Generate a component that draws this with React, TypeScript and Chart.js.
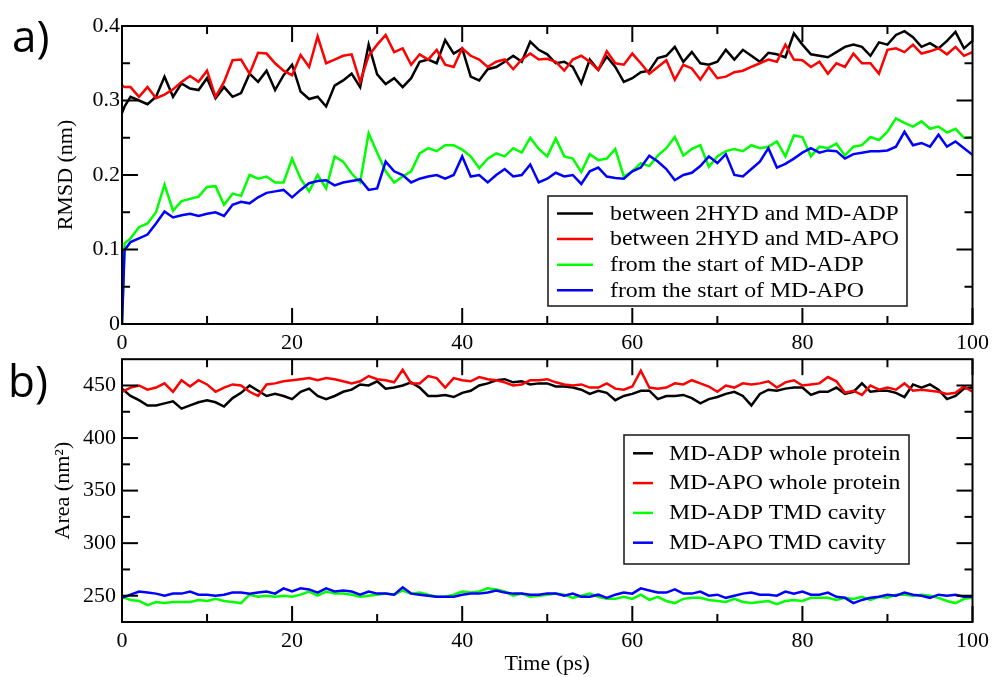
import React, { useEffect, useRef } from 'react';
import { Chart, registerables } from 'chart.js';

Chart.register(...registerables);

// ---------- data ----------
// top panel time axis (ps)
const TIME_RMSD = [0, 0.3, ...Array.from({ length: 100 }, (_, i) => i + 1)];
// bottom panel time axis (ps)
const TIME_AREA = Array.from({ length: 101 }, (_, i) => i);

const RMSD_2HYD_ADP = [
  0.283, 0.292,
  0.305, 0.300, 0.295, 0.305, 0.332, 0.305, 0.323, 0.316, 0.314, 0.330,
  0.303, 0.318, 0.305, 0.310, 0.336, 0.325, 0.340, 0.314, 0.334, 0.348,
  0.312, 0.302, 0.305, 0.292, 0.320, 0.327, 0.336, 0.318, 0.375, 0.335,
  0.322, 0.330, 0.318, 0.330, 0.352, 0.355, 0.350, 0.381, 0.363, 0.370,
  0.332, 0.327, 0.342, 0.345, 0.352, 0.360, 0.352, 0.379, 0.368, 0.362,
  0.350, 0.352, 0.345, 0.323, 0.355, 0.341, 0.359, 0.345, 0.325, 0.330,
  0.338, 0.340, 0.357, 0.360, 0.372, 0.352, 0.365, 0.350, 0.348, 0.352,
  0.368, 0.355, 0.368, 0.360, 0.352, 0.364, 0.362, 0.358, 0.390, 0.375,
  0.362, 0.360, 0.358, 0.365, 0.372, 0.375, 0.372, 0.360, 0.378, 0.375,
  0.388, 0.393, 0.385, 0.372, 0.377, 0.370, 0.380, 0.392, 0.370, 0.380,
];
const RMSD_2HYD_APO = [
  0.320, 0.318,
  0.318, 0.305, 0.318, 0.303, 0.308, 0.315, 0.325, 0.333, 0.325, 0.340,
  0.305, 0.325, 0.354, 0.355, 0.336, 0.364, 0.363, 0.350, 0.340, 0.334,
  0.361, 0.345, 0.386, 0.350, 0.355, 0.360, 0.362, 0.325, 0.360, 0.375,
  0.388, 0.365, 0.370, 0.348, 0.362, 0.355, 0.368, 0.348, 0.345, 0.370,
  0.360, 0.355, 0.345, 0.352, 0.355, 0.342, 0.355, 0.363, 0.355, 0.356,
  0.352, 0.340, 0.355, 0.360, 0.352, 0.341, 0.366, 0.350, 0.348, 0.363,
  0.350, 0.336, 0.345, 0.354, 0.328, 0.348, 0.343, 0.328, 0.345, 0.330,
  0.332, 0.338, 0.340, 0.345, 0.350, 0.355, 0.352, 0.375, 0.355, 0.354,
  0.345, 0.352, 0.336, 0.350, 0.345, 0.363, 0.350, 0.350, 0.336, 0.368,
  0.370, 0.365, 0.375, 0.363, 0.366, 0.370, 0.362, 0.372, 0.360, 0.365,
];
const RMSD_START_ADP = [
  0.0, 0.108,
  0.115, 0.130, 0.135, 0.150, 0.187, 0.152, 0.165, 0.168, 0.171, 0.184,
  0.185, 0.160, 0.175, 0.172, 0.200, 0.195, 0.198, 0.190, 0.190, 0.222,
  0.195, 0.178, 0.200, 0.182, 0.225, 0.218, 0.202, 0.190, 0.256, 0.230,
  0.205, 0.190, 0.198, 0.205, 0.229, 0.236, 0.232, 0.240, 0.240, 0.234,
  0.225, 0.209, 0.222, 0.229, 0.225, 0.236, 0.230, 0.250, 0.235, 0.225,
  0.249, 0.225, 0.222, 0.204, 0.228, 0.220, 0.222, 0.235, 0.198, 0.205,
  0.216, 0.212, 0.226, 0.236, 0.251, 0.226, 0.235, 0.240, 0.211, 0.225,
  0.232, 0.235, 0.232, 0.240, 0.236, 0.238, 0.245, 0.225, 0.253, 0.251,
  0.225, 0.238, 0.236, 0.242, 0.226, 0.238, 0.240, 0.251, 0.247, 0.258,
  0.276, 0.270, 0.265, 0.272, 0.262, 0.265, 0.257, 0.262, 0.250, 0.251,
];
const RMSD_START_APO = [
  0.0, 0.099,
  0.110, 0.115, 0.120, 0.135, 0.151, 0.143, 0.146, 0.148, 0.145, 0.148,
  0.150, 0.145, 0.160, 0.164, 0.162, 0.170, 0.176, 0.178, 0.180, 0.170,
  0.180, 0.189, 0.192, 0.193, 0.186, 0.190, 0.192, 0.194, 0.180, 0.182,
  0.218, 0.205, 0.200, 0.190, 0.195, 0.198, 0.200, 0.195, 0.200, 0.225,
  0.198, 0.200, 0.190, 0.200, 0.208, 0.198, 0.200, 0.214, 0.190, 0.195,
  0.203, 0.198, 0.200, 0.188, 0.205, 0.210, 0.198, 0.196, 0.195, 0.205,
  0.210, 0.226, 0.218, 0.208, 0.193, 0.200, 0.203, 0.212, 0.225, 0.216,
  0.228, 0.200, 0.198, 0.208, 0.218, 0.236, 0.210, 0.215, 0.222, 0.230,
  0.236, 0.230, 0.233, 0.232, 0.222, 0.228, 0.230, 0.232, 0.232, 0.233,
  0.238, 0.258, 0.240, 0.243, 0.238, 0.254, 0.238, 0.245, 0.236, 0.227,
];

const AREA_ADP_WHOLE = [
  447,
  440, 436, 431, 431, 433, 435, 428, 431, 434, 436,
  434, 430, 438, 443, 450, 445, 440, 442, 440, 437,
  444, 447, 440, 437, 440, 444, 446, 451, 450, 454,
  447, 448, 450, 453, 448, 440, 440, 441, 439, 443,
  445, 450, 452, 455, 456, 453, 454, 451, 452, 452,
  449, 449, 448, 446, 442, 445, 443, 436, 440, 442,
  445, 445, 437, 440, 440, 441, 438, 433, 437, 439,
  442, 444, 440, 431, 442, 446, 445, 447, 448, 448,
  441, 444, 444, 448, 442, 444, 452, 444, 445, 445,
  443, 439, 451, 448, 451, 446, 437, 440, 447, 448,
];
const AREA_APO_WHOLE = [
  444,
  448, 450, 446, 448, 452, 444, 455, 449, 455, 451,
  444, 448, 451, 450, 444, 440, 451, 452, 454, 455,
  456, 457, 455, 457, 456, 454, 452, 454, 459, 456,
  455, 453, 465, 452, 452, 459, 457, 448, 457, 455,
  454, 458, 456, 455, 453, 450, 451, 455, 455, 456,
  453, 451, 450, 451, 448, 448, 452, 447, 446, 449,
  464, 448, 447, 448, 452, 451, 455, 452, 449, 444,
  450, 448, 452, 451, 452, 454, 448, 453, 455, 450,
  451, 452, 458, 454, 443, 445, 441, 450, 446, 448,
  446, 452, 445, 446, 445, 444, 442, 443, 449, 444,
];
const AREA_ADP_TMD = [
  249,
  246, 245, 241, 244, 243, 244, 244, 244, 246, 245,
  247, 245, 244, 243, 251, 249, 250, 249, 250, 249,
  251, 254, 250, 254, 252, 252, 251, 249, 250, 251,
  252, 251, 255, 252, 253, 251, 249, 249, 251, 254,
  253, 254, 257, 256, 254, 250, 252, 249, 250, 251,
  252, 251, 248, 250, 252, 249, 247, 247, 249, 247,
  251, 246, 249, 245, 243, 247, 248, 248, 246, 245,
  244, 247, 244, 243, 244, 245, 242, 245, 246, 245,
  248, 248, 248, 246, 248, 247, 249, 246, 249, 248,
  251, 251, 250, 251, 250, 248, 245, 243, 247, 248,
];
const AREA_APO_TMD = [
  248,
  251, 254, 253, 252, 250, 252, 252, 254, 251, 251,
  250, 251, 253, 253, 252, 253, 254, 252, 257, 254,
  257, 256, 253, 257, 254, 255, 254, 251, 254, 252,
  252, 251, 258, 252, 251, 250, 249, 249, 249, 251,
  252, 252, 253, 255, 253, 252, 252, 251, 251, 252,
  252, 250, 252, 249, 249, 251, 248, 251, 253, 252,
  257, 255, 253, 253, 256, 252, 252, 254, 250, 251,
  248, 250, 252, 253, 251, 251, 250, 254, 252, 254,
  251, 251, 253, 249, 248, 243, 246, 248, 249, 251,
  250, 253, 251, 250, 248, 251, 250, 251, 249, 249,
];

const RMSD_LABELS = [
  'between 2HYD and MD-ADP',
  'between 2HYD and MD-APO',
  'from the start of MD-ADP',
  'from the start of MD-APO',
];
const AREA_LABELS = [
  'MD-ADP whole protein',
  'MD-APO whole protein',
  'MD-ADP TMD cavity',
  'MD-APO TMD cavity',
];
const COLORS = ['#000000', '#ff0000', '#00ff00', '#0000ff'];

const X_TICKS = [0, 20, 40, 60, 80, 100];
const X_MINOR = [10, 30, 50, 70, 90];
const RMSD_TICKS = [0, 0.1, 0.2, 0.3, 0.4];
const RMSD_MINOR = [0.05, 0.15, 0.25, 0.35];
const AREA_TICKS = [250, 300, 350, 400, 450];
const AREA_MINOR = [275, 325, 375, 425];

// ---------- helpers ----------
const SERIF = '"Liberation Serif", "Times New Roman", serif';

const framePlugin = {
  id: 'frameTicks',
  afterDatasetsDraw(chart: any, _args: any, opts: any) {
    const { ctx, chartArea: a, scales } = chart;
    const x = scales.x;
    const y = scales.y;
    ctx.save();
    ctx.strokeStyle = '#000';
    ctx.lineWidth = 2;
    ctx.lineCap = 'butt';
    const MAJ = 16;
    const MIN = 8;
    const line = (x1: number, y1: number, x2: number, y2: number) => {
      ctx.beginPath();
      ctx.moveTo(x1, y1);
      ctx.lineTo(x2, y2);
      ctx.stroke();
    };
    const xt = (v: number, len: number) => {
      const px = x.getPixelForValue(v);
      line(px, a.bottom, px, a.bottom - len);
      line(px, a.top, px, a.top + len);
    };
    const yt = (v: number, len: number) => {
      const py = y.getPixelForValue(v);
      line(a.left, py, a.left + len, py);
      line(a.right, py, a.right - len, py);
    };
    X_TICKS.forEach((v) => xt(v, MAJ));
    X_MINOR.forEach((v) => xt(v, MIN));
    opts.yMajor.forEach((v: number) => yt(v, MAJ));
    opts.yMinor.forEach((v: number) => yt(v, MIN));
    ctx.strokeRect(a.left, a.top, a.right - a.left, a.bottom - a.top);
    ctx.restore();
  },
  afterDraw(chart: any, _args: any, opts: any) {
    const { ctx } = chart;
    const lg = opts.legend;
    ctx.save();
    // legend box
    ctx.fillStyle = '#fff';
    ctx.fillRect(lg.x, lg.y, lg.w, lg.h);
    ctx.strokeStyle = '#222';
    ctx.lineWidth = 1.6;
    ctx.strokeRect(lg.x, lg.y, lg.w, lg.h);
    lg.labels.forEach((label: string, i: number) => {
      const ry = lg.row0 + i * lg.rowGap;
      ctx.strokeStyle = COLORS[i];
      ctx.lineWidth = 2.5;
      ctx.beginPath();
      ctx.moveTo(lg.lineX0, ry);
      ctx.lineTo(lg.lineX1, ry);
      ctx.stroke();
      ctx.save();
      ctx.translate(lg.textX, ry + 1);
      ctx.scale(1.19, 1);
      ctx.fillStyle = '#000';
      ctx.font = '20px ' + SERIF;
      ctx.textBaseline = 'middle';
      ctx.textAlign = 'left';
      ctx.fillText(label, 0, 0);
      ctx.restore();
    });
    // panel letter
    ctx.fillStyle = '#000';
    ctx.font = '44px "Open Sans", "DejaVu Sans", sans-serif';
    ctx.textBaseline = 'alphabetic';
    ctx.textAlign = 'left';
    ctx.fillText(opts.panel.text, opts.panel.x, opts.panel.y);
    ctx.restore();
  },
};

function makeDatasets(times: number[], series: number[][], labels: string[]) {
  return series.map((vals, i) => ({
    label: labels[i],
    data: times.map((t, j) => ({ x: t, y: vals[j] })),
    borderColor: COLORS[i],
    backgroundColor: COLORS[i],
    borderWidth: 2.5,
    pointRadius: 0,
    tension: 0,
    fill: false,
    order: 4 - i,
  }));
}

function makeConfig(p: any) {
  const tickFont = { family: SERIF, size: 22 };
  return {
    type: 'line',
    data: { datasets: makeDatasets(p.times, p.series, p.labels) },
    plugins: [framePlugin],
    options: {
      animation: false,
      responsive: false,
      events: [],
      layout: { padding: p.padding },
      plugins: {
        legend: { display: false },
        tooltip: { enabled: false },
        frameTicks: { yMajor: p.yTicks, yMinor: p.yMinor, legend: p.legend, panel: p.panel },
      },
      scales: {
        x: {
          type: 'linear',
          min: 0,
          max: 100,
          grid: { display: false, drawTicks: false },
          border: { display: false },
          afterBuildTicks: (s: any) => {
            s.ticks = X_TICKS.map((v) => ({ value: v }));
          },
          afterFit: (s: any) => {
            s.height = p.xHeight;
          },
          ticks: {
            color: '#000',
            font: tickFont,
            padding: p.xPad,
            maxRotation: 0,
            minRotation: 0,
            autoSkip: false,
            callback: (v: number) => String(v),
          },
          title: p.xTitle
            ? {
                display: true,
                text: p.xTitle,
                color: '#000',
                font: { family: SERIF, size: 22, lineHeight: 1 },
                padding: 0,
              }
            : { display: false },
        },
        y: {
          type: 'linear',
          min: p.yMin,
          max: p.yMax,
          grid: { display: false, drawTicks: false },
          border: { display: false },
          afterBuildTicks: (s: any) => {
            s.ticks = p.yTicks.map((v: number) => ({ value: v }));
          },
          afterFit: (s: any) => {
            s.width = p.yWidth;
          },
          ticks: {
            color: '#000',
            font: tickFont,
            padding: p.yPad,
            autoSkip: false,
            callback: p.yFormat,
          },
          title: {
            display: true,
            text: p.yTitle,
            color: '#000',
            font: { family: SERIF, size: 22, lineHeight: 1.2 },
            padding: 0,
          },
        },
      },
    },
  };
}

export default function App() {
  const topRef = useRef<HTMLCanvasElement>(null);
  const botRef = useRef<HTMLCanvasElement>(null);

  useEffect(() => {
    Chart.defaults.color = '#000';
    const top = new Chart(
      topRef.current as HTMLCanvasElement,
      makeConfig({
        times: TIME_RMSD,
        series: [RMSD_2HYD_ADP, RMSD_2HYD_APO, RMSD_START_ADP, RMSD_START_APO],
        labels: RMSD_LABELS,
        padding: { left: 53, top: 26, right: 21, bottom: 0 },
        xHeight: 36,
        xPad: 6,
        yWidth: 69,
        yPad: 2,
        yMin: 0,
        yMax: 0.4,
        yTicks: RMSD_TICKS,
        yMinor: RMSD_MINOR,
        yFormat: (v: number) => (v === 0 ? '0' : v.toFixed(1)),
        yTitle: 'RMSD (nm)',
        legend: {
          x: 548, y: 196, w: 359, h: 110,
          row0: 213.5, rowGap: 25.6, lineX0: 557, lineX1: 593, textX: 610,
          labels: RMSD_LABELS,
        },
        panel: { text: 'a)', x: 12, y: 52 },
      }) as any
    );
    const bot = new Chart(
      botRef.current as HTMLCanvasElement,
      makeConfig({
        times: TIME_AREA,
        series: [AREA_ADP_WHOLE, AREA_APO_WHOLE, AREA_ADP_TMD, AREA_APO_TMD],
        labels: AREA_LABELS,
        padding: { left: 50, top: 18, right: 21, bottom: 2 },
        xHeight: 53,
        xPad: 6,
        yWidth: 72,
        yPad: 6,
        yMin: 225,
        yMax: 475,
        yTicks: AREA_TICKS,
        yMinor: AREA_MINOR,
        yFormat: (v: number) => String(v),
        yTitle: 'Area (nm²)',
        xTitle: 'Time (ps)',
        legend: {
          x: 624, y: 95, w: 285, h: 129,
          row0: 113.3, rowGap: 29.8, lineX0: 633, lineX1: 653, textX: 669,
          labels: AREA_LABELS,
        },
        panel: { text: 'b)', x: 8, y: 57 },
      }) as any
    );
    return () => {
      top.destroy();
      bot.destroy();
    };
  }, []);

  return (
    <div style={{ position: 'absolute', left: 0, top: 0, width: 995, height: 677, background: '#fff', overflow: 'hidden' }}>
      <canvas
        ref={topRef}
        width={995}
        height={360}
        style={{ position: 'absolute', left: 0, top: 0, width: 995, height: 360, display: 'block' }}
      />
      <canvas
        ref={botRef}
        width={995}
        height={337}
        style={{ position: 'absolute', left: 0, top: 340, width: 995, height: 337, display: 'block' }}
      />
    </div>
  );
}
